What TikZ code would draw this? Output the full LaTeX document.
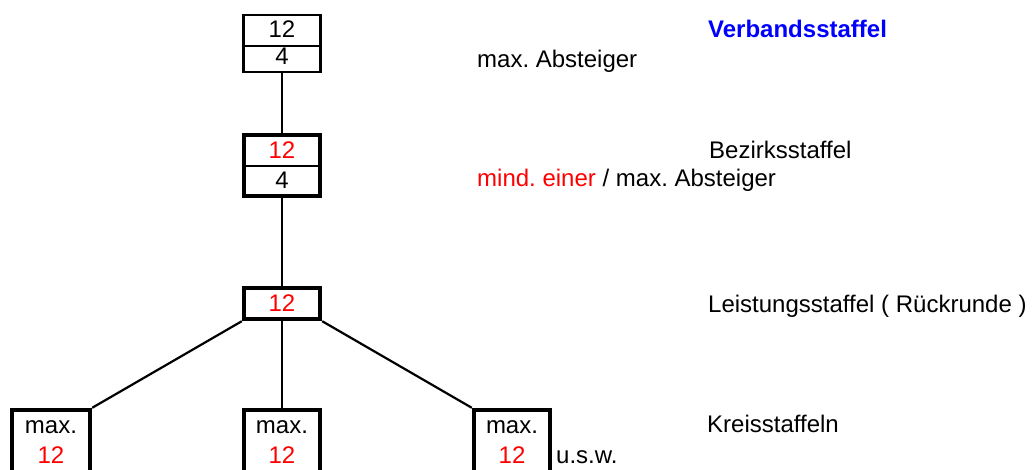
\documentclass[tikz,border=0pt]{standalone}
\usepackage{fontspec}
\setmainfont{Liberation Sans}
\frenchspacing
\definecolor{txtred}{RGB}{255,0,0}
\definecolor{txtblue}{RGB}{0,0,255}
\begin{document}
\begin{tikzpicture}[x=1pt,y=-1pt,
  every node/.style={font=\fontsize{24}{28}\selectfont, inner sep=0pt},
  thinbox/.style={draw, line width=2.6pt, minimum width=76.5pt},
  thickbox/.style={draw, line width=4.4pt, minimum width=76pt},
  divider/.style={line width=2.2pt},
  conn/.style={line width=2.2pt},
  lbl/.style={anchor=base west},
  cell/.style={anchor=base}
]
\useasboundingbox (0,0) rectangle (1033,469);
\clip (0,0) rectangle (1033,469);

% Verbandsstaffel box
\node[thinbox, minimum height=57pt] (v) at (282,43.5) {};
\draw[divider] (v.west |- 0,46) -- (v.east |- 0,46);
\node[cell] (v12) at (282,37) {12};
\node[cell] (v4) at (282,64) {4};

% Bezirksstaffel box
\node[thickbox, minimum height=61pt] (b) at (282,165.5) {};
\draw[divider] (b.west |- 0,166) -- (b.east |- 0,166);
\node[cell, text=txtred] (b12) at (282,158) {12};
\node[cell] (b4) at (282,188) {4};

% Leistungsstaffel box
\node[thickbox, minimum height=31pt] (l) at (282,303.5) {};
\node[cell, text=txtred] (l12) at (282,311) {12};

% Kreisstaffeln boxes (open at bottom edge)
\node[thickbox, minimum width=78pt, minimum height=120pt] (k1) at (51,470) {};
\node[thickbox, minimum height=120pt] (k2) at (282,470) {};
\node[thickbox, minimum height=120pt] (k3) at (512,470) {};
\foreach \k/\x in {k1/51,k2/282,k3/512}{
  \node[cell] (\k max) at (\x,433) {max.};
  \node[cell, text=txtred] (\k n) at (\x,463) {12};
}

% connectors
\draw[conn] (v.south) -- (b.north);
\draw[conn] (b.south) -- (l.north);
\draw[conn] (l.south) -- (k2.north);
\draw[conn] (l.south west) -- (k1.north east);
\draw[conn] (l.south east) -- (k3.north west);

% labels
\node[lbl, text=txtblue, font=\fontsize{24}{28}\selectfont\bfseries] (t1) at (708,37) {Verbandsstaffel};
\node[lbl] (t2) at (477,67) {max. Absteiger};
\node[lbl] (t3) at (709,158) {Bezirksstaffel};
\node[lbl] (t4) at (477,186) {\textcolor{txtred}{mind. einer} / max. Absteiger};
\node[lbl] (t5) at (708,312) {Leistungsstaffel ( Rückrunde )};
\node[lbl] (t6) at (707,432) {Kreisstaffeln};
\node[lbl] (t7) at (556,463) {u.s.w.};
\end{tikzpicture}
\end{document}
